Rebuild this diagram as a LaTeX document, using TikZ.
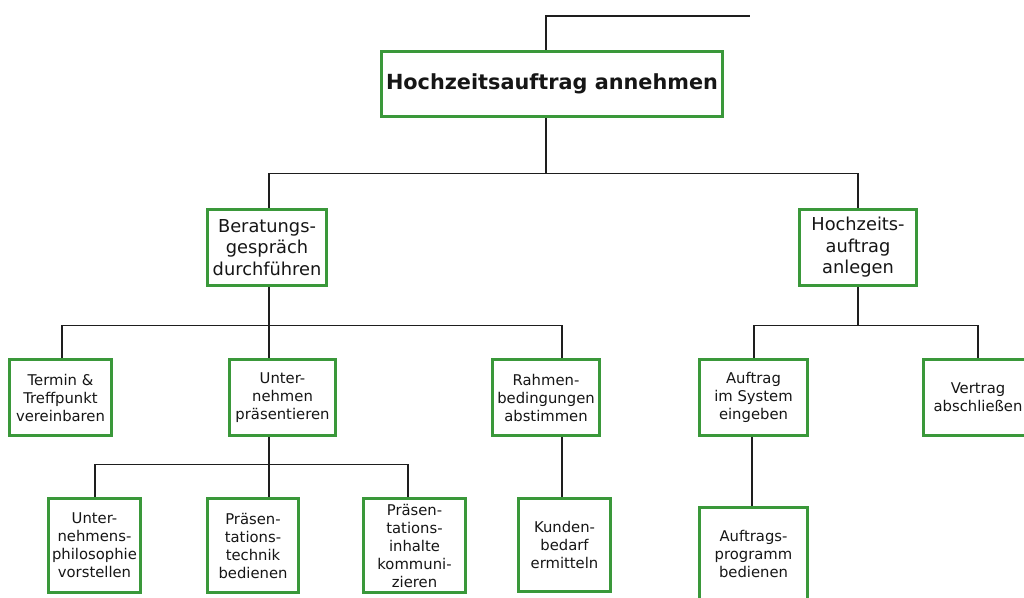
\documentclass[tikz,border=0pt]{standalone}
\usepackage{fontspec}
\setmainfont{DejaVu Sans}
\usetikzlibrary{calc,backgrounds}

\definecolor{boxgreen}{RGB}{58,152,58}
\definecolor{txt}{RGB}{22,22,22}
\definecolor{wirec}{RGB}{30,30,30}

\tikzset{
  box/.style={draw=boxgreen, line width=2.6pt, fill=white, align=center,
    inner sep=0pt, text=txt},
  lvA/.style={box, font=\fontsize{20.8}{25}\selectfont\bfseries},
  lvB/.style={box, font=\fontsize{17.8}{21.5}\selectfont},
  lvC/.style={box, font=\fontsize{14.8}{18}\selectfont},
  wire/.style={draw=wirec, line width=1.1pt},
}

\begin{document}
\begin{tikzpicture}[x=1pt, y=-1pt]
  \useasboundingbox (0,0) rectangle (1024,597);
  \clip (0,0) rectangle (1024,597);

  % root
  \node[lvA, minimum width=341.4pt, minimum height=65.4pt] (top) at (552,84)
    {Hochzeitsauftrag annehmen};

  % second level
  \node[lvB, minimum width=119.4pt, minimum height=76.4pt] (ber) at (267,247.5)
    {Beratungs-\\gespräch\\durchführen};
  \node[lvB, minimum width=117.4pt, minimum height=76.4pt] (anl) at (858,247.5)
    {Hochzeits-\\auftrag\\anlegen};

  % third level
  \node[lvC, minimum width=102.4pt, minimum height=76.4pt] (ter) at (60.5,397.5)
    {Termin \&\\Treffpunkt\\vereinbaren};
  \node[lvC, minimum width=106.4pt, minimum height=76.4pt] (unt) at (282.5,397.5)
    {Unter-\\nehmen\\präsentieren};
  \node[lvC, minimum width=107.4pt, minimum height=76.4pt] (rah) at (546,397.5)
    {Rahmen-\\bedingungen\\abstimmen};
  \node[lvC, minimum width=108.4pt, minimum height=76.4pt] (auf) at (753.5,397.5)
    {Auftrag\\im System\\eingeben};
  \node[lvC, minimum width=109.4pt, minimum height=76.4pt] (ver) at (978,397.5)
    {Vertrag\\abschließen};

  % fourth level
  \node[lvC, minimum width=92.4pt, minimum height=94.4pt] (uph) at (94.5,545.5)
    {Unter-\\nehmens-\\philosophie\\vorstellen};
  \node[lvC, minimum width=91.4pt, minimum height=94.4pt] (ptc) at (253,545.5)
    {Präsen-\\tations-\\technik\\bedienen};
  \node[lvC, minimum width=102.4pt, minimum height=94.4pt] (pin) at (414.5,545.5)
    {Präsen-\\tations-\\inhalte\\kommuni-\\zieren};
  \node[lvC, minimum width=92.4pt, minimum height=93.4pt] (kun) at (564.5,545)
    {Kunden-\\bedarf\\ermitteln};
  \node[lvC, minimum width=108.4pt, minimum height=93.4pt] (apr) at (753.5,554)
    {Auftrags-\\programm\\bedienen};

  % page background and connectors, behind the boxes
  \begin{scope}[on background layer]
    \fill[white] (0,0) rectangle (1024,597);

    \coordinate (feed) at (750,16);
    \draw[wire] ($(top.north)+(-6,0)$) |- (feed);

    \coordinate (b1) at ($(top.south)+(-6,55.3)$);
    \draw[wire] ($(top.south)+(-6,0)$) -- (b1);
    \draw[wire] ($(ber.north)+(2,0)$) |- (b1);
    \draw[wire] (anl.north) |- (b1);

    \coordinate (b2) at ($(ber.south)+(2,38.3)$);
    \draw[wire] ($(ber.south)+(2,0)$) -- (b2);
    \draw[wire] ($(ter.north)+(1.5,0)$) |- (b2);
    \draw[wire] ($(unt.north)+(-13.5,0)$) |- (b2);
    \draw[wire] ($(rah.north)+(16,0)$) |- (b2);

    \coordinate (b3) at ($(anl.south)+(0,38.3)$);
    \draw[wire] (anl.south) -- (b3);
    \draw[wire] ($(auf.north)+(0.5,0)$) |- (b3);
    \draw[wire] (ver.north) |- (b3);

    \coordinate (b4) at ($(unt.south)+(-13.5,27.3)$);
    \draw[wire] ($(unt.south)+(-13.5,0)$) -- (b4);
    \draw[wire] ($(uph.north)+(0.5,0)$) |- (b4);
    \draw[wire] ($(ptc.north)+(16,0)$) |- (b4);
    \draw[wire] ($(pin.north)+(-6.5,0)$) |- (b4);

    \draw[wire] ($(rah.south)+(16,0)$) -- ($(kun.north)+(-2.5,0)$);
    \draw[wire] ($(auf.south)+(-1.5,0)$) -- ($(apr.north)+(-1.5,0)$);
  \end{scope}
\end{tikzpicture}
\end{document}
